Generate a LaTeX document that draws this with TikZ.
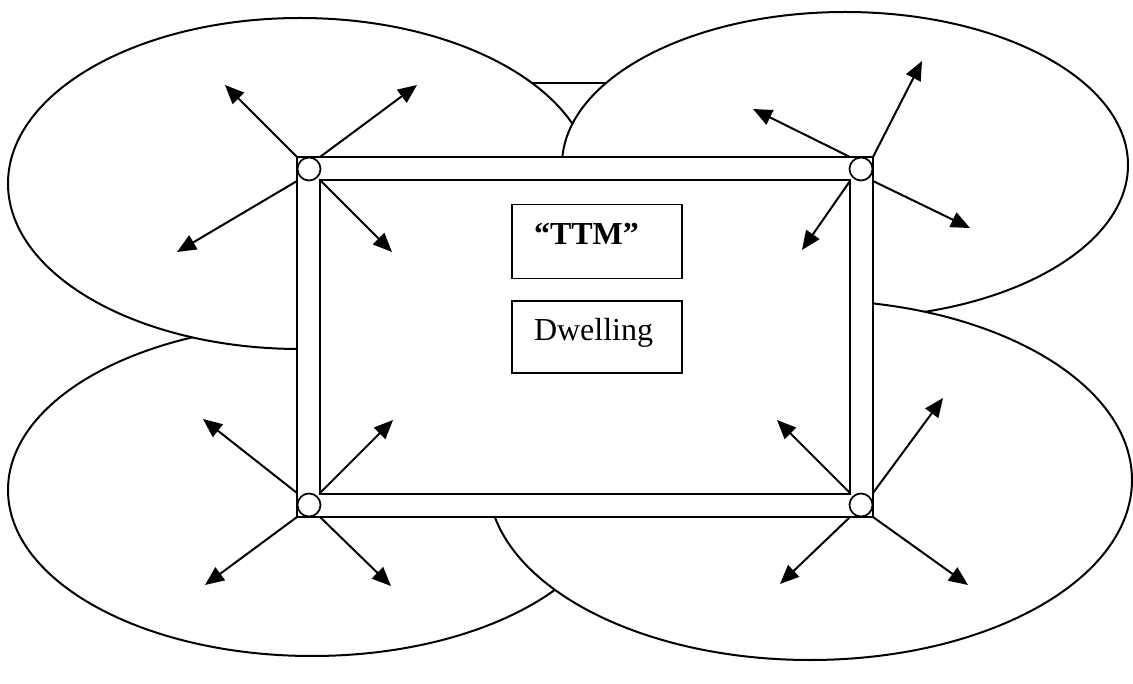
\documentclass[tikz,border=0pt]{standalone}
\usepackage{fontspec}
\setmainfont{Liberation Serif}
\usetikzlibrary{arrows.meta}
\begin{document}
\begin{tikzpicture}[x=1pt,y=-1pt,line width=2pt,
  outline/.style={draw=black,fill=white,line width=2pt},
  ray/.style={-{Triangle[length=19pt,width=16pt]},line width=2pt},
  joint/.style={circle,draw=black,fill=white,line width=1.7pt,minimum size=23pt,inner sep=0pt},
  labelbox/.style={draw=black,line width=1.7pt,minimum width=170pt,minimum height=74pt,inner sep=0pt},
  labeltext/.style={anchor=base west,inner sep=0pt,font=\fontsize{32}{36}\selectfont}]
\useasboundingbox (0,0) rectangle (1133,684);
% hidden edge between the two upper ellipses
\coordinate (ga) at (520,83);
\coordinate (gb) at (620,83);
\draw (ga) -- (gb);
% ellipses
\draw[outline] (312,490) ellipse [x radius=304, y radius=166];
\draw[outline] (300,183.5) ellipse [x radius=292, y radius=165.5];
\draw[outline] (845,165) ellipse [x radius=283, y radius=153];
\draw[outline] (810,480) ellipse [x radius=322, y radius=180];
% frame
\coordinate (otl) at (297,157);
\coordinate (otr) at (873,157);
\coordinate (obl) at (297,517);
\coordinate (obr) at (873,517);
\coordinate (itl) at (320,180);
\coordinate (itr) at (850,180);
\coordinate (ibl) at (320,494);
\coordinate (ibr) at (850,494);
\draw[outline] (otl) rectangle (obr);
\draw (itl) rectangle (ibr);
% arrow start points
\coordinate (tla) at (297,157);  \coordinate (tlb) at (320,157);
\coordinate (tlc) at (297,181);  \coordinate (tld) at (321,181);
\coordinate (tra) at (850,157);  \coordinate (trb) at (873,157);
\coordinate (trc) at (873,181);  \coordinate (trd) at (850,181);
\coordinate (bla) at (297,493);  \coordinate (blb) at (320,493);
\coordinate (blc) at (297,517);  \coordinate (bld) at (320,517);
\coordinate (bra) at (850,493);  \coordinate (brb) at (873,493);
\coordinate (brc) at (850,517);  \coordinate (brd) at (873,517);
% arrow tips
\coordinate (t1) at (225,85);   \coordinate (t2) at (417,85);
\coordinate (t3) at (177,252);  \coordinate (t4) at (392,252);
\coordinate (t5) at (753,109);  \coordinate (t6) at (922,61);
\coordinate (t7) at (970,228);  \coordinate (t8) at (802,250);
\coordinate (t9) at (203,419);  \coordinate (t10) at (393,420);
\coordinate (t11) at (205,585); \coordinate (t12) at (391,586);
\coordinate (t13) at (777,420); \coordinate (t14) at (943,398);
\coordinate (t15) at (780,584); \coordinate (t16) at (968,585);
\draw[ray] (tla) -- (t1);  \draw[ray] (tlb) -- (t2);
\draw[ray] (tlc) -- (t3);  \draw[ray] (tld) -- (t4);
\draw[ray] (tra) -- (t5);  \draw[ray] (trb) -- (t6);
\draw[ray] (trc) -- (t7);  \draw[ray] (trd) -- (t8);
\draw[ray] (bla) -- (t9);  \draw[ray] (blb) -- (t10);
\draw[ray] (blc) -- (t11); \draw[ray] (bld) -- (t12);
\draw[ray] (bra) -- (t13); \draw[ray] (brb) -- (t14);
\draw[ray] (brc) -- (t15); \draw[ray] (brd) -- (t16);
% corner joints
\node[joint] (jtl) at (309,169) {};
\node[joint] (jtr) at (861,169) {};
\node[joint] (jbl) at (309,505) {};
\node[joint] (jbr) at (861,505) {};
% label boxes
\node[labelbox] (ttmbox) at (597,241.5) {};
\node[labelbox,minimum height=72pt] (dwbox) at (597,337) {};
\node[labeltext] (ttm) at (533,245) {\bfseries “TTM”};
\node[labeltext] (dw) at (533,341) {Dwelling};
\end{tikzpicture}
\end{document}
